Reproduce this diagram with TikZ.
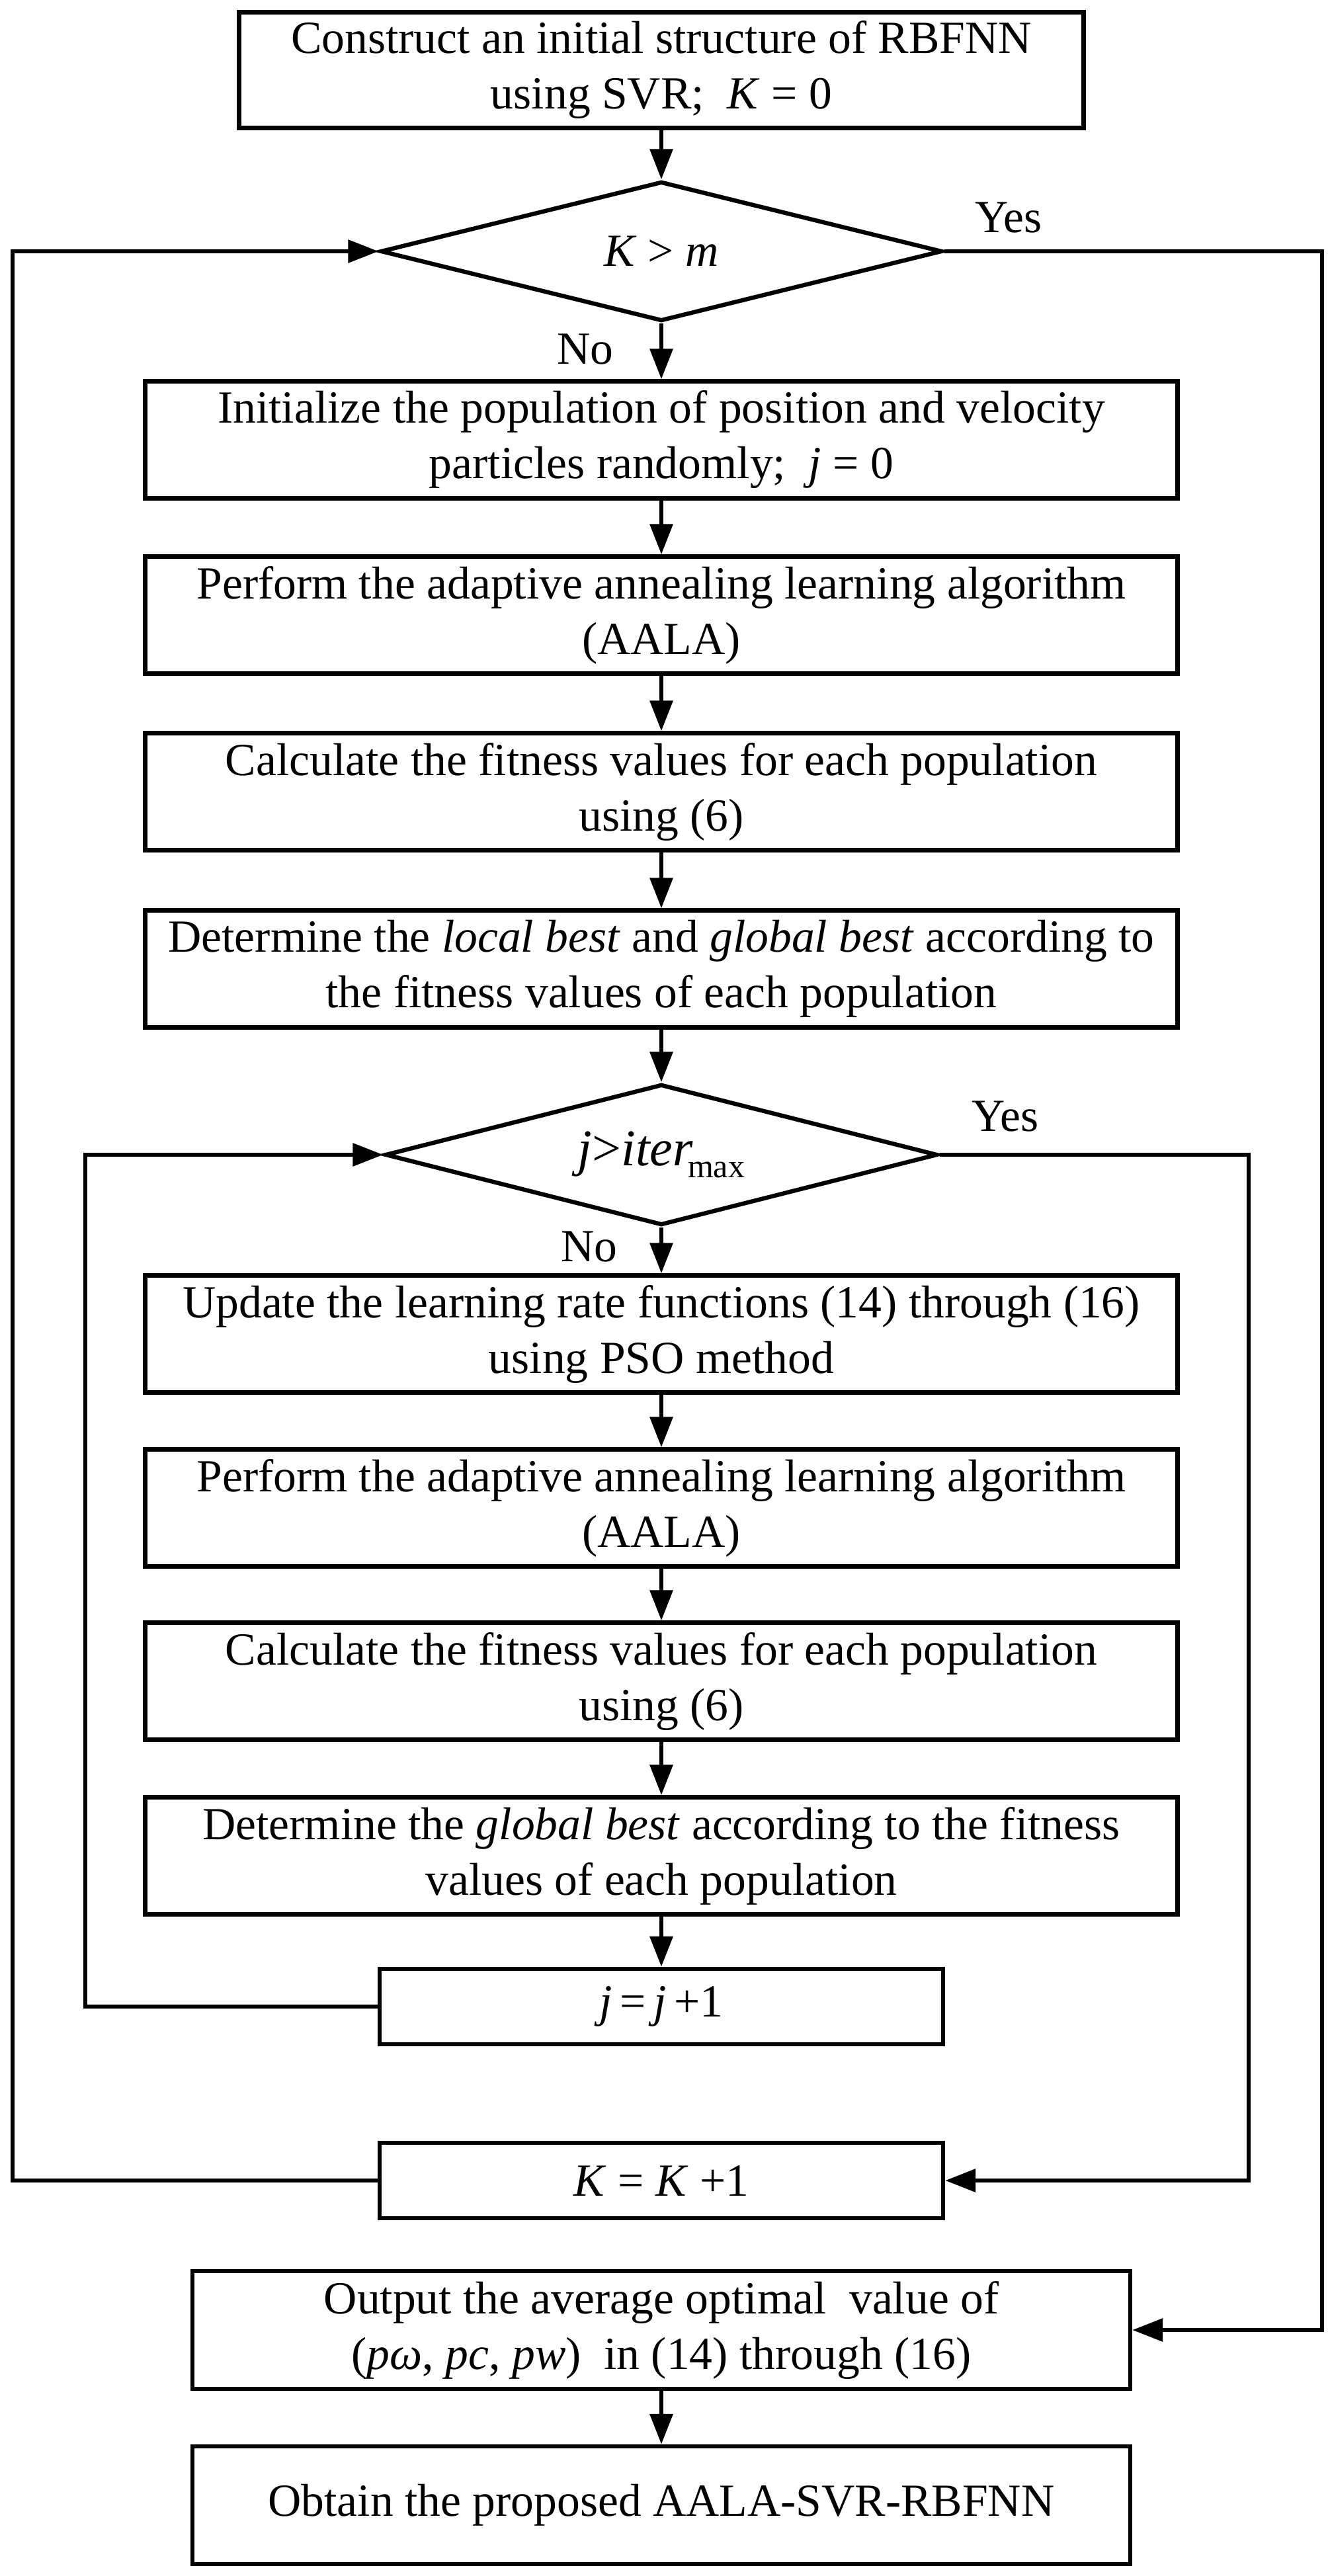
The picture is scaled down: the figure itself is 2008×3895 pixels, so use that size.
\documentclass[tikz,border=0pt]{standalone}
\usepackage{fontspec}
\setmainfont{Liberation Serif}
\usetikzlibrary{arrows.meta,shapes.geometric}
\begin{document}
\begin{tikzpicture}[x=0.25pt,y=-0.25pt,
  font=\fontsize{17.4}{21}\selectfont,
  every node/.style={inner sep=0pt},
  box/.style={draw, line width=1.6pt, align=center, minimum width=390.25pt, minimum height=44.25pt},
  midbox/.style={box, minimum width=354.5pt, minimum height=44.5pt},
  smallbox/.style={box, minimum width=213pt, minimum height=28.5pt},
  dec/.style={draw, diamond, aspect=4, line width=1.6pt, align=center},
  conn/.style={line width=1.6pt},
  arr/.style={conn, -{Triangle[length=11.5pt,width=8.5pt]}}
]
\useasboundingbox (0,0) rectangle (2008,3895);

\node[box, minimum width=319.25pt, minimum height=43.75pt] (b1) at (1000,106)
  {Construct an initial structure of RBFNN\\using SVR;\ \ \textit{K} = 0};
\node[dec, minimum width=212.25pt, minimum height=52.75pt] (d1) at (1000,380)
  {\textit{K} > \textit{m}};
\node[box] (b2) at (1000,665)
  {Initialize the population of position and velocity\\particles randomly;\ \ \textit{j} = 0};
\node[box] (b3) at (1000,930)
  {Perform the adaptive annealing learning algorithm\\(AALA)};
\node[box] (b4) at (1000,1197)
  {Calculate the fitness values for each population\\using (6)};
\node[box] (b5) at (1000,1465)
  {Determine the \textit{local best} and \textit{global best} according to\\the fitness values of each population};
\node[dec, minimum width=208.75pt, minimum height=53.25pt] (d2) at (1000,1746)
  {\fontsize{19.5}{21}\selectfont\textit{j}>\textit{iter}\kern-2pt\raisebox{-0.5ex}{\fontsize{12.5}{14}\selectfont max}};
\node[box] (b6) at (1000,2017)
  {Update the learning rate functions (14) through (16)\\using PSO method};
\node[box] (b7) at (1000,2280)
  {Perform the adaptive annealing learning algorithm\\(AALA)};
\node[box] (b8) at (1000,2542)
  {Calculate the fitness values for each population\\using (6)};
\node[box] (b9) at (1000,2806)
  {Determine the \textit{global best} according to the fitness\\values of each population};
\node[smallbox] (b10) at (1000,3034)
  {\textit{j}\,=\,\textit{j}\,+1};
\node[smallbox] (b11) at (1000,3297)
  {\textit{K} = \textit{K} +1};
\node[midbox] (b12) at (1000,3523)
  {Output the average optimal\ \ value of\\(\textit{pω}, \textit{pc}, \textit{pw})\ \ in (14) through (16)};
\node[midbox] (b13) at (1000,3788)
  {Obtain the proposed AALA-SVR-RBFNN};

\node (yes1) at (1525,329) {Yes};
\node (no1) at (885,528) {No};
\node (yes2) at (1520,1688) {Yes};
\node (no2) at (891,1885) {No};

\coordinate (ol) at (19,380);
\coordinate (or) at (1999,380);
\coordinate (il) at (129,1746);
\coordinate (ir) at (1888,1746);

\draw[arr] (b1) -- (d1);
\draw[arr] (d1) -- (b2);
\draw[arr] (b2) -- (b3);
\draw[arr] (b3) -- (b4);
\draw[arr] (b4) -- (b5);
\draw[arr] (b5) -- (d2);
\draw[arr] (d2) -- (b6);
\draw[arr] (b6) -- (b7);
\draw[arr] (b7) -- (b8);
\draw[arr] (b8) -- (b9);
\draw[arr] (b9) -- (b10);
\draw[arr] (b12) -- (b13);

\draw[arr] (b11.west) -- (ol |- b11.west) -- (ol) -- (d1.west);
\draw[arr] (d1.east) -- (or) -- (or |- b12.east) -- (b12.east);
\draw[arr] (b10.west) -- (il |- b10.west) -- (il) -- (d2.west);
\draw[arr] (d2.east) -- (ir) -- (ir |- b11.east) -- (b11.east);
\end{tikzpicture}
\end{document}
